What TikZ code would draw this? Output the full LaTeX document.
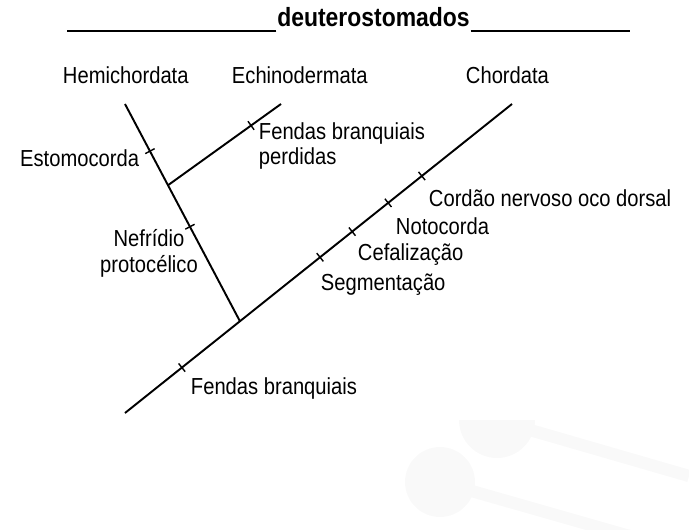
\documentclass[tikz,border=0pt]{standalone}
\usepackage{fontspec}
\setmainfont{Liberation Sans}[FakeStretch=0.87]
\usetikzlibrary{calc}
\tikzset{
  lbl/.style={inner sep=0pt,font=\fontsize{13.2}{14.7}\selectfont},
  tk/.style={line width=.8pt},
  wm/.style={gray!5}
}

\begin{document}
\begin{tikzpicture}[x=.02cm,y=-.02cm,line width=1.1pt]
  \useasboundingbox (0,0) rectangle (689,530);
  % faint marks behind
  \fill[wm] (440,482) circle (35);
  \draw[wm,line width=7pt] (440,482) -- (689,553);
  \fill[wm] (459,420) arc (180:0:38) -- cycle;
  \draw[wm,line width=7pt] (530,430) -- (689,476);
  % tree
  \coordinate (R) at (125,413); \coordinate (C) at (512,104);
  \coordinate (H) at (125,104); \coordinate (J) at ($(R)!.297!(C)$);
  \coordinate (K) at ($(H)!.374!(J)$); \coordinate (E) at (281,104);
  \draw (R)--(C);
  \draw (H)--(J);
  \draw (K)--(E);
  \coordinate (t1) at ($(R)!.147!(C)$); \coordinate (t2) at ($(R)!.504!(C)$);
  \coordinate (t3) at ($(R)!.587!(C)$); \coordinate (t4) at ($(R)!.680!(C)$);
  \coordinate (t5) at ($(R)!.767!(C)$); \coordinate (t6) at ($(H)!.217!(J)$);
  \coordinate (t7) at ($(H)!.565!(J)$); \coordinate (t8) at ($(K)!.735!(E)$);
  \foreach \p/\q in {t1/C,t2/C,t3/C,t4/C,t5/C,t6/J,t7/J,t8/E}
    \draw[tk] ($(\p)!3pt!90:(\q)$) -- ($(\p)!3pt!-90:(\q)$);
  % title
  \node[inner sep=0pt,font=\fontsize{15}{16}\selectfont\bfseries,anchor=base] (T) at (373.5,27) {deuterostomados};
  \draw[line width=1.4pt] ([shift={(0,4)}]T.base west) -- ++(-209,0);
  \draw[line width=1.4pt] ([shift={(0,4)}]T.base east) -- ++(159,0);
  % taxa
  \node[lbl,anchor=west] (hemi) at (62,75) {Hemichordata};
  \node[lbl,anchor=west] (echi) at (231,75) {Echinodermata};
  \node[lbl,anchor=west] (chor) at (465,75) {Chordata};
  % characters
  \node[lbl,anchor=east] (esto) at (140,158) {Estomocorda};
  \node[lbl,align=center] (nefr) at (149,253) {Nefrídio\\protocélico};
  \node[lbl,align=left,anchor=west] (perd) at (258,146) {Fendas branquiais\\perdidas};
  \node[lbl,anchor=west] (cord) at (428,198) {Cordão nervoso oco dorsal};
  \node[lbl,anchor=west] (noto) at (395,226) {Notocorda};
  \node[lbl,anchor=west] (cefa) at (357,255) {Cefalização};
  \node[lbl,anchor=west] (segm) at (320,285) {Segmentação};
  \node[lbl,anchor=west] (fend) at (190,389) {Fendas branquiais};
\end{tikzpicture}
\end{document}
